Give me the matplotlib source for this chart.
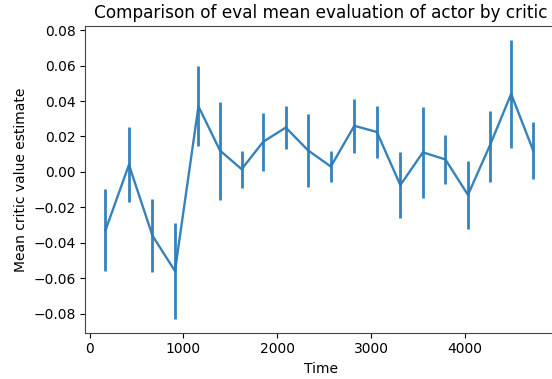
import matplotlib
matplotlib.use("Agg")
import matplotlib.pyplot as plt

# eval time steps and critic estimates
time_steps = [170, 420, 670, 910, 1160, 1390, 1620, 1850, 2090, 2330,
              2570, 2820, 3060, 3310, 3550, 3790, 4030, 4260, 4490, 4725]
mean_values = [-0.033, 0.004, -0.036, -0.056, 0.037, 0.012, 0.0015, 0.017, 0.025, 0.012,
               0.003, 0.026, 0.0225, -0.0075, 0.011, 0.007, -0.013, 0.0145, 0.044, 0.012]
errors = [0.0232, 0.0212, 0.0207, 0.027, 0.0225, 0.0277, 0.0105, 0.0163, 0.0122, 0.0207,
          0.0088, 0.0153, 0.0145, 0.0188, 0.0255, 0.0136, 0.0191, 0.02, 0.0304, 0.0163]

fig = plt.figure(figsize=(5.52, 3.79), dpi=100)
# right spine falls just past the picture's edge, like the reference
ax = fig.add_axes([0.1545, 0.122, 0.854, 0.809])

ax.errorbar(time_steps, mean_values, yerr=errors, color="#2b7bb9",
            linewidth=1.7, elinewidth=2.0, alpha=0.95)
ax.set_xlim(-45, 4975)

ax.set_title("Comparison of eval mean evaluation of actor by critic", fontsize=12.2)
ax.set_xlabel("Time")
ax.set_ylabel("Mean critic value estimate")
for s in ax.spines.values():
    s.set_color("#444444")

fig.savefig("out.png", dpi=100)
